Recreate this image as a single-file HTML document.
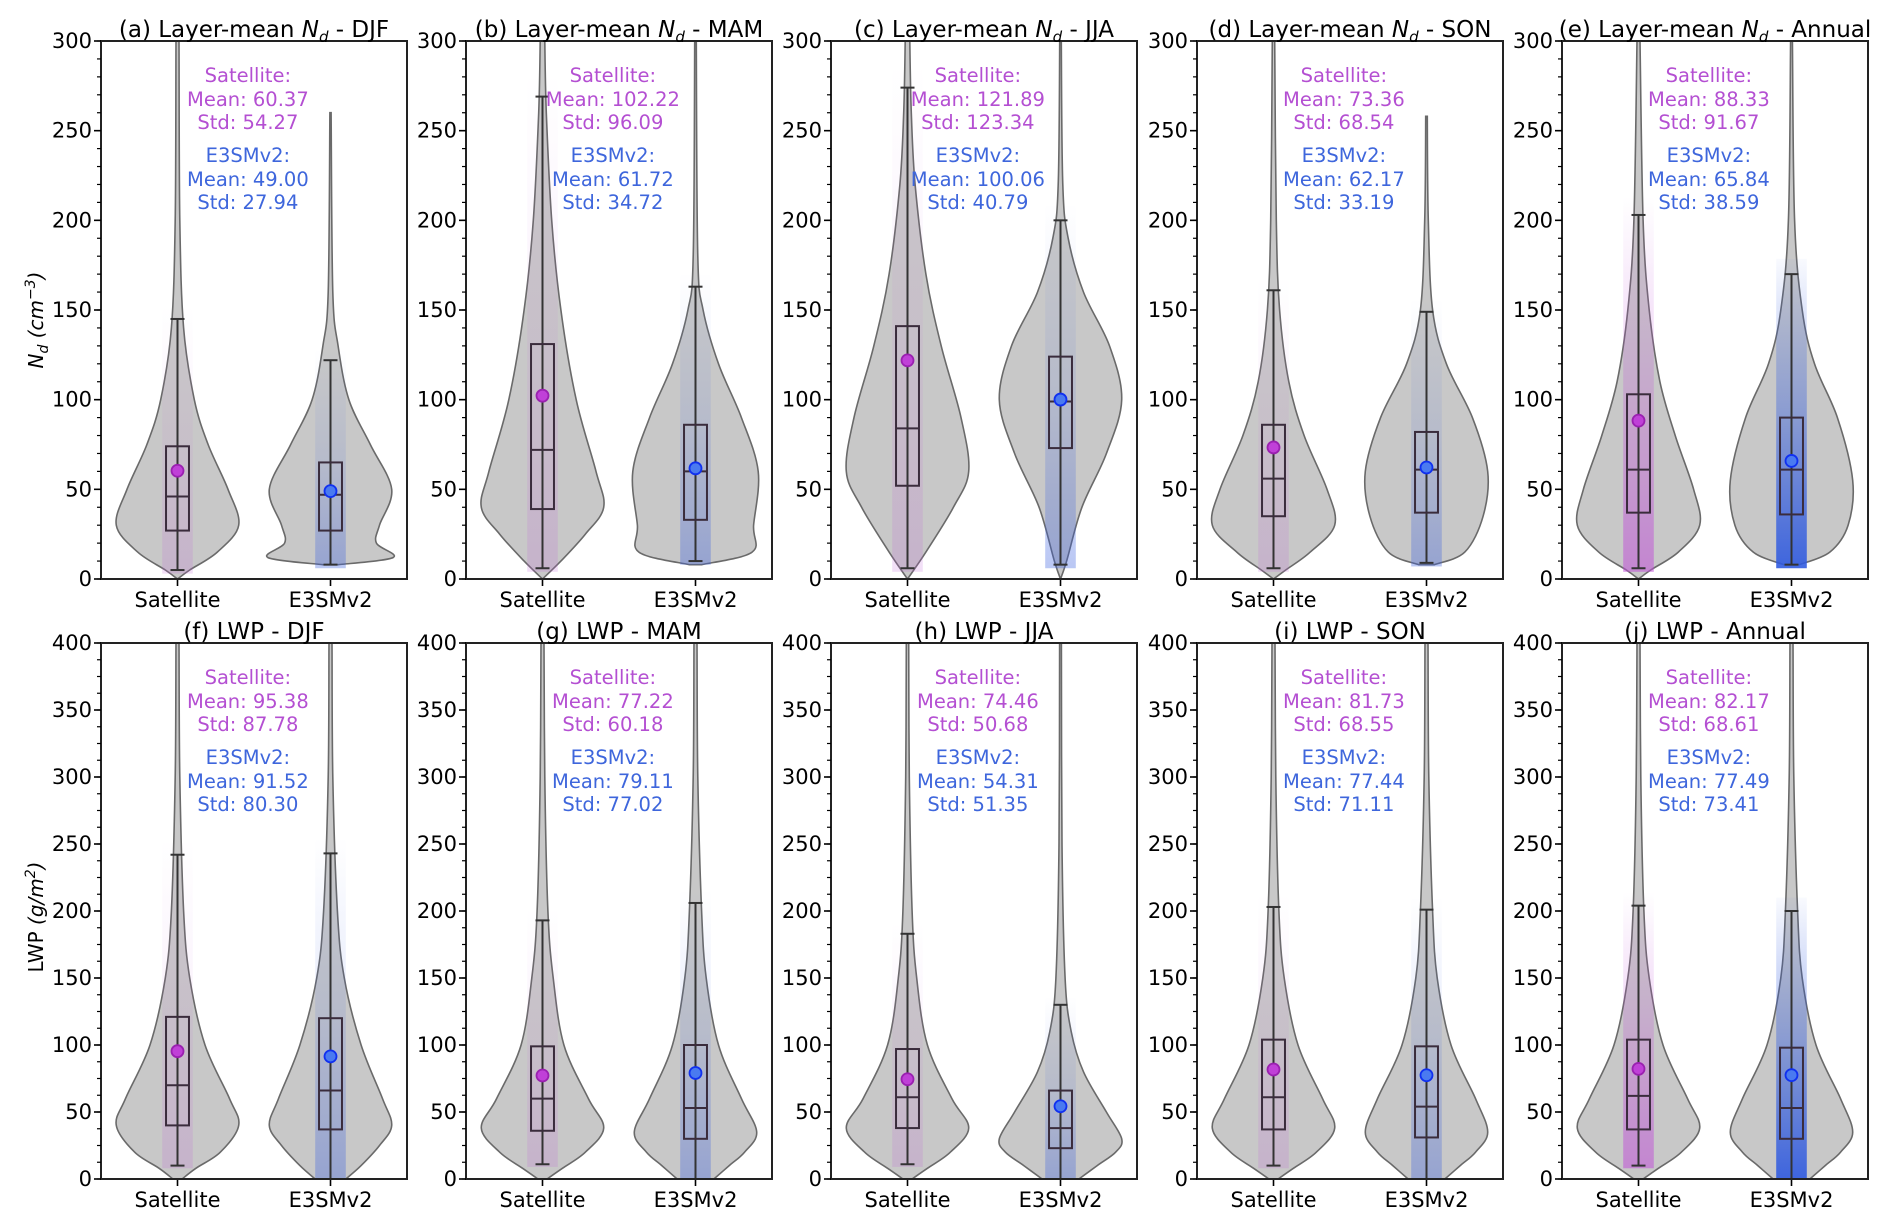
<!DOCTYPE html>
<html><head><meta charset="utf-8">
<style>
html,body{margin:0;padding:0;background:#fff;}
svg text{font-family:"DejaVu Sans","Liberation Sans",sans-serif;}
</style></head>
<body>
<svg id="fig" width="1892" height="1226" viewBox="0 0 1892 1226" xmlns="http://www.w3.org/2000/svg">
<defs>
<linearGradient id="gp" x1="0" y1="1" x2="0" y2="0"><stop offset="0" stop-color="#c060d8" stop-opacity="0.2"/><stop offset="0.5" stop-color="#c060d8" stop-opacity="0.08"/><stop offset="1" stop-color="#c060d8" stop-opacity="0"/></linearGradient>
<linearGradient id="gb" x1="0" y1="1" x2="0" y2="0"><stop offset="0" stop-color="#3a60e0" stop-opacity="0.35"/><stop offset="0.5" stop-color="#3a60e0" stop-opacity="0.12"/><stop offset="1" stop-color="#3a60e0" stop-opacity="0"/></linearGradient>
<linearGradient id="gpa" x1="0" y1="1" x2="0" y2="0"><stop offset="0" stop-color="#c050d8" stop-opacity="0.55"/><stop offset="0.5" stop-color="#c050d8" stop-opacity="0.25"/><stop offset="1" stop-color="#c050d8" stop-opacity="0"/></linearGradient>
<linearGradient id="gba" x1="0" y1="1" x2="0" y2="0"><stop offset="0" stop-color="#2f5ae0" stop-opacity="0.9"/><stop offset="0.5" stop-color="#2f5ae0" stop-opacity="0.4"/><stop offset="1" stop-color="#2f5ae0" stop-opacity="0.03"/></linearGradient>
</defs>
</svg>
<script>
// ---- data ----
const panelTitles = ["(a) Layer-mean |N_d| - DJF","(b) Layer-mean |N_d| - MAM","(c) Layer-mean |N_d| - JJA","(d) Layer-mean |N_d| - SON","(e) Layer-mean |N_d| - Annual",
 "(f) LWP - DJF","(g) LWP - MAM","(h) LWP - JJA","(i) LWP - SON","(j) LWP - Annual"];
const categories = ["Satellite","E3SMv2"];
const satMean = [60.37,102.22,121.89,73.36,88.33,95.38,77.22,74.46,81.73,82.17];
const satStd  = [54.27,96.09,123.34,68.54,91.67,87.78,60.18,50.68,68.55,68.61];
const modMean = [49.00,61.72,100.06,62.17,65.84,91.52,79.11,54.31,77.44,77.49];
const modStd  = [27.94,34.72,40.79,33.19,38.59,80.30,77.02,51.35,71.11,73.41];
// box stats [whiskerLo, q1, median, q3, whiskerHi]
const satBox = [[5,27,46,74,145],[6,39,72,131,269],[6,52,84,141,274],[6,35,56,86,161],[6,37,61,103,203],
 [10,40,70,121,242],[11,36,60,99,193],[11,38,61,97,183],[10,37,61,104,203],[10,37,62,104,204]];
const modBox = [[8,27,47,65,122],[10,33,60,86,163],[8,73,99,124,200],[9,37,61,82,149],[8,36,61,90,170],
 [0,37,66,120,243],[0,30,53,100,206],[0,23,38,66,130],[0,31,54,99,201],[0,30,53,98,200]];
// violin density profiles [value, half-width (x units)]
const satViolin = [
 [[0,0],[5,0.08],[15,0.26],[30,0.4],[50,0.33],[75,0.2],[100,0.11],[140,0.04],[200,0.015],[300,0.01]],
 [[0,0],[10,0.12],[25,0.28],[40,0.4],[60,0.35],[100,0.22],[150,0.12],[200,0.06],[260,0.025],[300,0.015]],
 [[0,0],[15,0.12],[40,0.3],[60,0.4],[90,0.35],[130,0.22],[170,0.12],[220,0.05],[260,0.025],[300,0.015]],
 [[0,0],[5,0.08],[15,0.24],[30,0.4],[50,0.35],[80,0.2],[110,0.1],[150,0.04],[200,0.018],[300,0.008]],
 [[0,0],[5,0.08],[15,0.26],[30,0.4],[50,0.36],[80,0.24],[110,0.14],[150,0.07],[200,0.03],[300,0.01]],
 [[0,0.03],[8,0.12],[20,0.28],[40,0.4],[60,0.34],[100,0.18],[150,0.08],[200,0.04],[300,0.015],[400,0.01]],
 [[0,0.03],[8,0.13],[20,0.28],[38,0.4],[60,0.3],[100,0.14],[150,0.07],[200,0.035],[300,0.015],[400,0.01]],
 [[0,0.03],[8,0.13],[20,0.28],[38,0.4],[60,0.29],[100,0.13],[150,0.06],[200,0.03],[300,0.012],[400,0.008]],
 [[0,0.03],[8,0.13],[20,0.28],[38,0.4],[60,0.32],[100,0.16],[150,0.07],[200,0.035],[300,0.015],[400,0.01]],
 [[0,0.03],[8,0.13],[20,0.28],[38,0.4],[60,0.32],[100,0.16],[150,0.07],[200,0.035],[300,0.015],[400,0.01]]];
const modViolin = [
 [[8,0.05],[12,0.41],[20,0.3],[30,0.32],[50,0.4],[75,0.26],[100,0.12],[130,0.05],[160,0.015],[260,0.004]],
 [[8,0.04],[15,0.37],[30,0.38],[60,0.41],[90,0.3],[120,0.15],[150,0.05],[180,0.015],[300,0.005]],
 [[0,0],[10,0.04],[40,0.14],[70,0.3],[100,0.4],[130,0.32],[160,0.15],[190,0.05],[220,0.015],[300,0.005]],
 [[8,0.05],[15,0.25],[35,0.37],[60,0.4],[90,0.3],[120,0.13],[150,0.04],[200,0.012],[258,0.005]],
 [[8,0.05],[15,0.25],[30,0.37],[55,0.4],[90,0.3],[120,0.15],[150,0.07],[200,0.02],[300,0.006]],
 [[0,0.1],[10,0.2],[25,0.32],[40,0.4],[60,0.34],[100,0.2],[150,0.09],[200,0.045],[300,0.015],[400,0.01]],
 [[0,0.12],[10,0.22],[20,0.32],[35,0.4],[60,0.3],[100,0.15],[150,0.07],[200,0.04],[300,0.015],[400,0.01]],
 [[0,0.12],[10,0.24],[20,0.36],[30,0.4],[50,0.3],[80,0.15],[110,0.07],[150,0.03],[250,0.01],[400,0.006]],
 [[0,0.12],[10,0.22],[20,0.32],[35,0.4],[60,0.32],[100,0.16],[150,0.07],[200,0.04],[300,0.015],[400,0.01]],
 [[0,0.12],[10,0.22],[20,0.32],[35,0.4],[60,0.32],[100,0.16],[150,0.07],[200,0.04],[300,0.015],[400,0.01]]];
const yMaxRow = [300,400];
const yTicksRow = [[0,50,100,150,200,250,300],[0,50,100,150,200,250,300,350,400]];
const yMinorRow = [10,12.5];

// ---- layout ----
const svg = document.getElementById('fig');
const NS = "http://www.w3.org/2000/svg";
const panelLeft = [101,466,831,1197,1562];
const panelW = 306;
const rowTop = [41,643], rowBot = [579,1179];
function mk(tag, attrs, parent){const e=document.createElementNS(NS,tag);for(const k in attrs)e.setAttribute(k,attrs[k]);(parent||svg).appendChild(e);return e;}

function smoothPath(pts){
  let d = "M"+pts[0][0].toFixed(1)+","+pts[0][1].toFixed(1);
  for(let i=0;i<pts.length-1;i++){
    const p0=pts[Math.max(0,i-1)],p1=pts[i],p2=pts[i+1],p3=pts[Math.min(pts.length-1,i+2)];
    const c1=[p1[0]+(p2[0]-p0[0])/6,p1[1]+(p2[1]-p0[1])/6];
    const c2=[p2[0]-(p3[0]-p1[0])/6,p2[1]-(p3[1]-p1[1])/6];
    d+=" C"+c1[0].toFixed(1)+","+c1[1].toFixed(1)+" "+c2[0].toFixed(1)+","+c2[1].toFixed(1)+" "+p2[0].toFixed(1)+","+p2[1].toFixed(1);
  }
  return d;
}

for(let p=0;p<10;p++){
  const row = p<5?0:1, col = p%5;
  const L = panelLeft[col], T = rowTop[row], B = rowBot[row];
  const yMax = yMaxRow[row];
  const g = mk('g',{});
  
  
  const xS = v => L + (v+0.5)/2*panelW;
  const yS = v => B - Math.min(v,yMax)/yMax*(B-T);
  const clipId='clip'+p;
  const cp = mk('clipPath',{id:clipId},g); mk('rect',{x:L,y:T,width:panelW,height:B-T},cp);
  const plot = mk('g',{'clip-path':'url(#'+clipId+')'},g);

  [0,1].forEach(ci=>{
    const cx = xS(ci);
    const prof = ci===0?satViolin[p]:modViolin[p];
    const bx = ci===0?satBox[p]:modBox[p];
    const mean = ci===0?satMean[p]:modMean[p];
    const right = prof.map(q=>[cx+q[1]*panelW/2, yS(q[0])]);
    const left = prof.map(q=>[cx-q[1]*panelW/2, yS(q[0])]).reverse();
    let d = smoothPath(right) + " L" + smoothPath(left).slice(1) + " Z";
    const v = mk('path',{d:d,fill:'#c8c8c8',stroke:'#6a6a6a','stroke-width':1.6},plot);
    
    
    const annual = (col===4);
    const fillId = ci===0?(annual?'gpa':'gp'):(annual?'gba':'gb');
    const topV = Math.min(bx[4]*1.05, yMax);
    const sc = mk('rect',{x:cx-0.1*panelW/2,y:yS(topV),width:0.2*panelW/2,height:yS(Math.max(bx[0]-2,0))-yS(topV),fill:'url(#'+fillId+')'},plot);
    
    
    const wh = mk('line',{x1:cx,x2:cx,y1:yS(bx[0]),y2:yS(bx[4]),stroke:'#333','stroke-width':2},plot);
    
    
    [bx[0],bx[4]].forEach(c=>{ const cap=mk('line',{x1:cx-7,x2:cx+7,y1:yS(c),y2:yS(c),stroke:'#333','stroke-width':2},plot);
      
      });
    const hw = 0.075*panelW/2;
    const box = mk('rect',{x:cx-hw,y:yS(bx[3]),width:2*hw,height:yS(bx[1])-yS(bx[3]),fill:'none',stroke:'#3a2c3c','stroke-width':2},plot);
    
    
    const md = mk('line',{x1:cx-hw,x2:cx+hw,y1:yS(bx[2]),y2:yS(bx[2]),stroke:'#3a2c3c','stroke-width':2},plot);
    
    
    const mc = mk('circle',{cx:cx,cy:yS(mean),r:6,fill:ci===0?'#c040d8':'#4a7af0',stroke:ci===0?'#9a20b0':'#1030f0','stroke-width':1.8},plot);
    
    
    mk('line',{x1:cx,x2:cx,y1:B,y2:B+7,stroke:'#000','stroke-width':1.6},g);
    const xt = mk('text',{x:cx,y:B+28,'text-anchor':'middle','font-size':21,fill:'#000'},g);
    xt.textContent = categories[ci];
    
    
  });

  const fr = mk('rect',{x:L,y:T,width:panelW,height:B-T,fill:'none',stroke:'#222','stroke-width':2},g);
  
  
  const mn = yMinorRow[row];
  for(let v=0; v<=yMax+0.01; v+=mn){ mk('line',{x1:L-4,x2:L,y1:yS(v),y2:yS(v),stroke:'#000','stroke-width':1.2},g); }
  yTicksRow[row].forEach(v=>{
    mk('line',{x1:L-7,x2:L,y1:yS(v),y2:yS(v),stroke:'#000','stroke-width':1.6},g);
    const t = mk('text',{x:L-9,y:yS(v)+7,'text-anchor':'end','font-size':21,fill:'#000'},g);
    t.textContent = v;
    
    
  });
  const tt = mk('text',{x:L+panelW/2,y:T-4,'text-anchor':'middle','font-size':23,fill:'#000'},g);
  
  
  const parts = panelTitles[p].split('|');
  parts.forEach((s,i)=>{
    if(s==='N_d'){ const a=mk('tspan',{'font-style':'italic'},tt); a.textContent='N'; const b=mk('tspan',{'font-size':15,dy:5,'font-style':'italic'},tt); b.textContent='d'; }
    else { const a=mk('tspan',i>0?{dy:-5}:{},tt); a.textContent=s; }
  });
  const sx = L+0.48*panelW;
  const lines = [["Satellite:",'#b44fd2',T+41],["Mean: "+satMean[p].toFixed(2),'#b44fd2',T+65],["Std: "+satStd[p].toFixed(2),'#b44fd2',T+88],
                 ["E3SMv2:",'#3e66dc',T+121],["Mean: "+modMean[p].toFixed(2),'#3e66dc',T+145],["Std: "+modStd[p].toFixed(2),'#3e66dc',T+168]];
  lines.forEach(l=>{ const t=mk('text',{x:sx,y:l[2],'text-anchor':'middle','font-size':19.5,fill:l[1]},g); t.textContent=l[0];
    
    });
}
const yl1 = mk('text',{x:0,y:0,'font-size':20,'text-anchor':'middle',transform:'translate(43,320) rotate(-90)'});


{const a=mk('tspan',{'font-style':'italic'},yl1);a.textContent='N';const b=mk('tspan',{'font-size':14,dy:5,'font-style':'italic'},yl1);b.textContent='d';
 const c=mk('tspan',{dy:-5,'font-style':'italic'},yl1);c.textContent=' (cm';const d=mk('tspan',{'font-size':14,dy:-8,'font-style':'italic'},yl1);d.textContent='−3';const e=mk('tspan',{dy:8,'font-style':'italic'},yl1);e.textContent=')';}
const yl2 = mk('text',{x:0,y:0,'font-size':20,'text-anchor':'middle',transform:'translate(43,917) rotate(-90)'});


{const a=mk('tspan',{},yl2);a.textContent='LWP ';const c=mk('tspan',{'font-style':'italic'},yl2);c.textContent='(g/m';const d=mk('tspan',{'font-size':14,dy:-8,'font-style':'italic'},yl2);d.textContent='2';const e=mk('tspan',{dy:8,'font-style':'italic'},yl2);e.textContent=')';}
</script>
</body></html>
